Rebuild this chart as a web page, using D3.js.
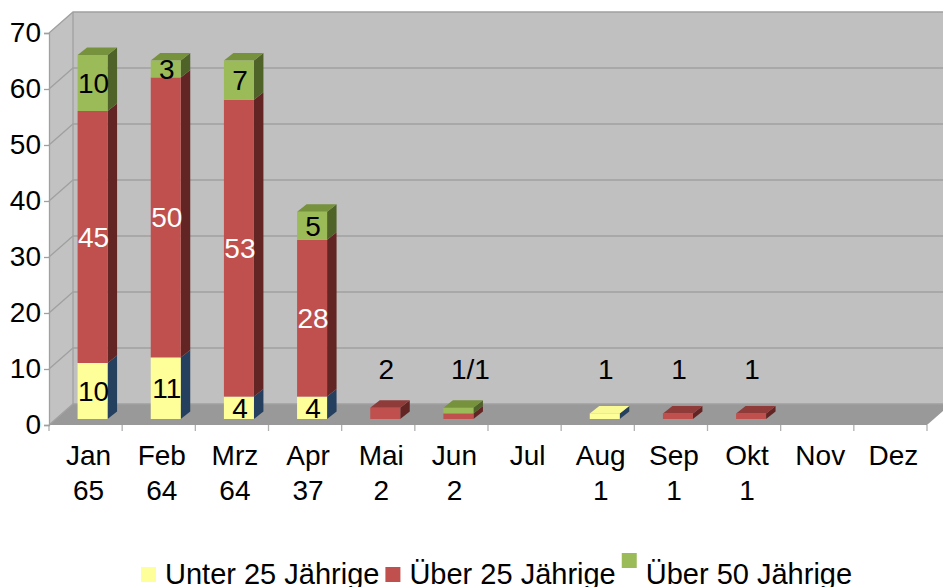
<!DOCTYPE html>
<html>
<head>
<meta charset="utf-8">
<script src="https://d3js.org/d3.v7.min.js"></script>
<style>
body { margin: 0; background: #fff; }
text { font-family: "Liberation Sans", Arial, sans-serif; }
</style>
</head>
<body>
<svg id="chart"></svg>
<script>
var months = ["Jan", "Feb", "Mrz", "Apr", "Mai", "Jun", "Jul", "Aug", "Sep", "Okt", "Nov", "Dez"];
var unter25 = [10, 11, 4, 4, 0, 0, 0, 1, 0, 0, 0, 0];
var ueber25 = [45, 50, 53, 28, 2, 1, 0, 0, 1, 1, 0, 0];
var ueber50 = [10, 3, 7, 5, 0, 1, 0, 0, 0, 0, 0, 0];
var seriesNames = ["Unter 25 Jährige", "Über 25 Jährige", "Über 50 Jährige"];
var yTicks = [0, 10, 20, 30, 40, 50, 60, 70];
// hand written notes above the small bars
var noteMonths = ["Mai", "Jun", "Aug", "Sep", "Okt"];
var noteTexts = ["2", "1/1", "1", "1", "1"];

var width = 943, height = 587;
var svg = d3.select("#chart").attr("width", width).attr("height", height);

var front = ["#ffff99", "#c0504d", "#9bbb59"],
    top_ = ["#f9f996", "#8e3b39", "#76923c"],
    side = ["#25405f", "#632523", "#4f6228"],
    labelCol = ["#000", "#fff", "#000"];

var wall = {dx: 24, dy: -21},
    barOff = {dx: 7, dy: -6},
    barDepth = {dx: 9.5, dy: -7.5};

var x = d3.scaleBand().domain(months).range([49, 927]);
var y = d3.scaleLinear().domain([0, 70]).range([425, 33]);
var barW = x.bandwidth() * 0.41;

var pts = function(a) { return a.map(function(p) { return p.join(","); }).join(" "); };

var x0 = x.range()[0], x1 = x.range()[1], yb = y(0), yt = y(70);

// walls and floor
svg.append("polygon")
    .attr("points", pts([[x0 + wall.dx, yt + wall.dy], [x1 + wall.dx, yt + wall.dy], [x1 + wall.dx, yb + wall.dy], [x0 + wall.dx, yb + wall.dy]]))
    .attr("fill", "#c0c0c0");
svg.append("polygon")
    .attr("points", pts([[x0, yt], [x0 + wall.dx, yt + wall.dy], [x0 + wall.dx, yb + wall.dy], [x0, yb]]))
    .attr("fill", "#c2c2c2");
svg.append("polygon")
    .attr("points", pts([[x0, yb], [x1, yb], [x1 + wall.dx, yb + wall.dy], [x0 + wall.dx, yb + wall.dy]]))
    .attr("fill", "#999999");

// grid lines on back and left wall
var grid = svg.append("g").attr("stroke", "#a0a0a0").attr("stroke-width", 1.3).attr("fill", "none");
yTicks.forEach(function(t) {
  grid.append("polyline")
      .attr("points", pts([[x0, y(t)], [x0 + wall.dx, y(t) + wall.dy], [x1 + wall.dx, y(t) + wall.dy]]));
});
grid.append("line")
    .attr("x1", x0 + wall.dx).attr("x2", x0 + wall.dx)
    .attr("y1", yt + wall.dy).attr("y2", yb + wall.dy);

// category ticks under the floor
svg.append("g").selectAll("line")
    .data(months.concat(["end"]))
    .join("line")
    .attr("x1", function(d, i) { return x0 + i * x.step(); })
    .attr("x2", function(d, i) { return x0 + i * x.step(); })
    .attr("y1", yb).attr("y2", yb + 6)
    .attr("stroke", "#b0b0b0").attr("stroke-width", 1.3);

// y axis
var yAxis = svg.append("g")
    .attr("transform", "translate(" + x0 + ",0)")
    .call(d3.axisLeft(y).tickValues(yTicks).tickSize(5).tickPadding(3));
yAxis.select(".domain").attr("stroke", "#a0a0a0").attr("stroke-width", 1.3);
yAxis.selectAll(".tick line").attr("stroke", "#a0a0a0").attr("stroke-width", 1.3);
yAxis.selectAll("text").attr("font-size", 28).attr("font-family", "Liberation Sans, Arial, sans-serif").attr("fill", "#000");

// stacked bars
var table = months.map(function(m, i) { return {month: m, a: unter25[i], b: ueber25[i], c: ueber50[i]}; });
var stack = d3.stack().keys(["a", "b", "c"])(table);

var bars = svg.append("g");
table.forEach(function(row, i) {
  var left = x(row.month) + (x.bandwidth() - barW) / 2 + barOff.dx,
      right = left + barW;
  var topIdx = -1;
  stack.forEach(function(s, k) { if (s[i][1] > s[i][0]) topIdx = k; });
  stack.forEach(function(s, k) {
    var v0 = s[i][0], v1 = s[i][1];
    if (v1 <= v0) return;
    var yl = y(v0) + barOff.dy, yh = y(v1) + barOff.dy;
    bars.append("polygon")
        .attr("points", pts([[right, yl], [right + barDepth.dx, yl + barDepth.dy], [right + barDepth.dx, yh + barDepth.dy], [right, yh]]))
        .attr("fill", side[k]);
    if (k === topIdx) {
      bars.append("polygon")
          .attr("points", pts([[left, yh], [right, yh], [right + barDepth.dx, yh + barDepth.dy], [left + barDepth.dx, yh + barDepth.dy]]))
          .attr("fill", top_[k]);
    }
    bars.append("rect")
        .attr("x", left).attr("y", yh)
        .attr("width", barW).attr("height", yl - yh)
        .attr("fill", front[k]);
    if (v1 - v0 >= 3) {
      bars.append("text")
          .attr("x", (left + right) / 2 + 1)
          .attr("y", (yl + yh) / 2)
          .attr("dy", "0.36em")
          .attr("text-anchor", "middle")
          .attr("font-size", 28)
          .attr("fill", labelCol[k])
          .text(v1 - v0);
    }
  });
});

// notes above the small bars
svg.append("g").selectAll("text")
    .data(noteMonths)
    .join("text")
    .attr("x", function(m, i) { return x(m) + x.bandwidth() / 2 + barOff.dx + (noteTexts[i].length > 1 ? 12 : 1); })
    .attr("y", 379)
    .attr("text-anchor", "middle")
    .attr("font-size", 28)
    .text(function(m, i) { return noteTexts[i]; });

// category labels with totals
var cats = svg.append("g").selectAll("text")
    .data(table)
    .join("text")
    .attr("text-anchor", "middle")
    .attr("font-size", 28);
cats.append("tspan")
    .attr("x", function(d) { return x(d.month) + x.bandwidth() / 2 + 3; })
    .attr("y", 465)
    .text(function(d) { return d.month; });
cats.append("tspan")
    .attr("x", function(d) { return x(d.month) + x.bandwidth() / 2 + 3; })
    .attr("y", 500)
    .text(function(d) { var t = d.a + d.b + d.c; return t > 0 ? t : ""; });

// legend
var legend = svg.append("g");
var lx = 141;
seriesNames.forEach(function(name, k) {
  legend.append("rect")
      .attr("x", lx).attr("y", k === 2 ? 553 : 567)
      .attr("width", 15).attr("height", 15)
      .attr("fill", front[k]);
  var t = legend.append("text")
      .attr("x", lx + 24).attr("y", 584)
      .attr("font-size", 29)
      .text(name);
  lx += 24 + t.node().getComputedTextLength() + 6;
});
</script>
</body>
</html>
